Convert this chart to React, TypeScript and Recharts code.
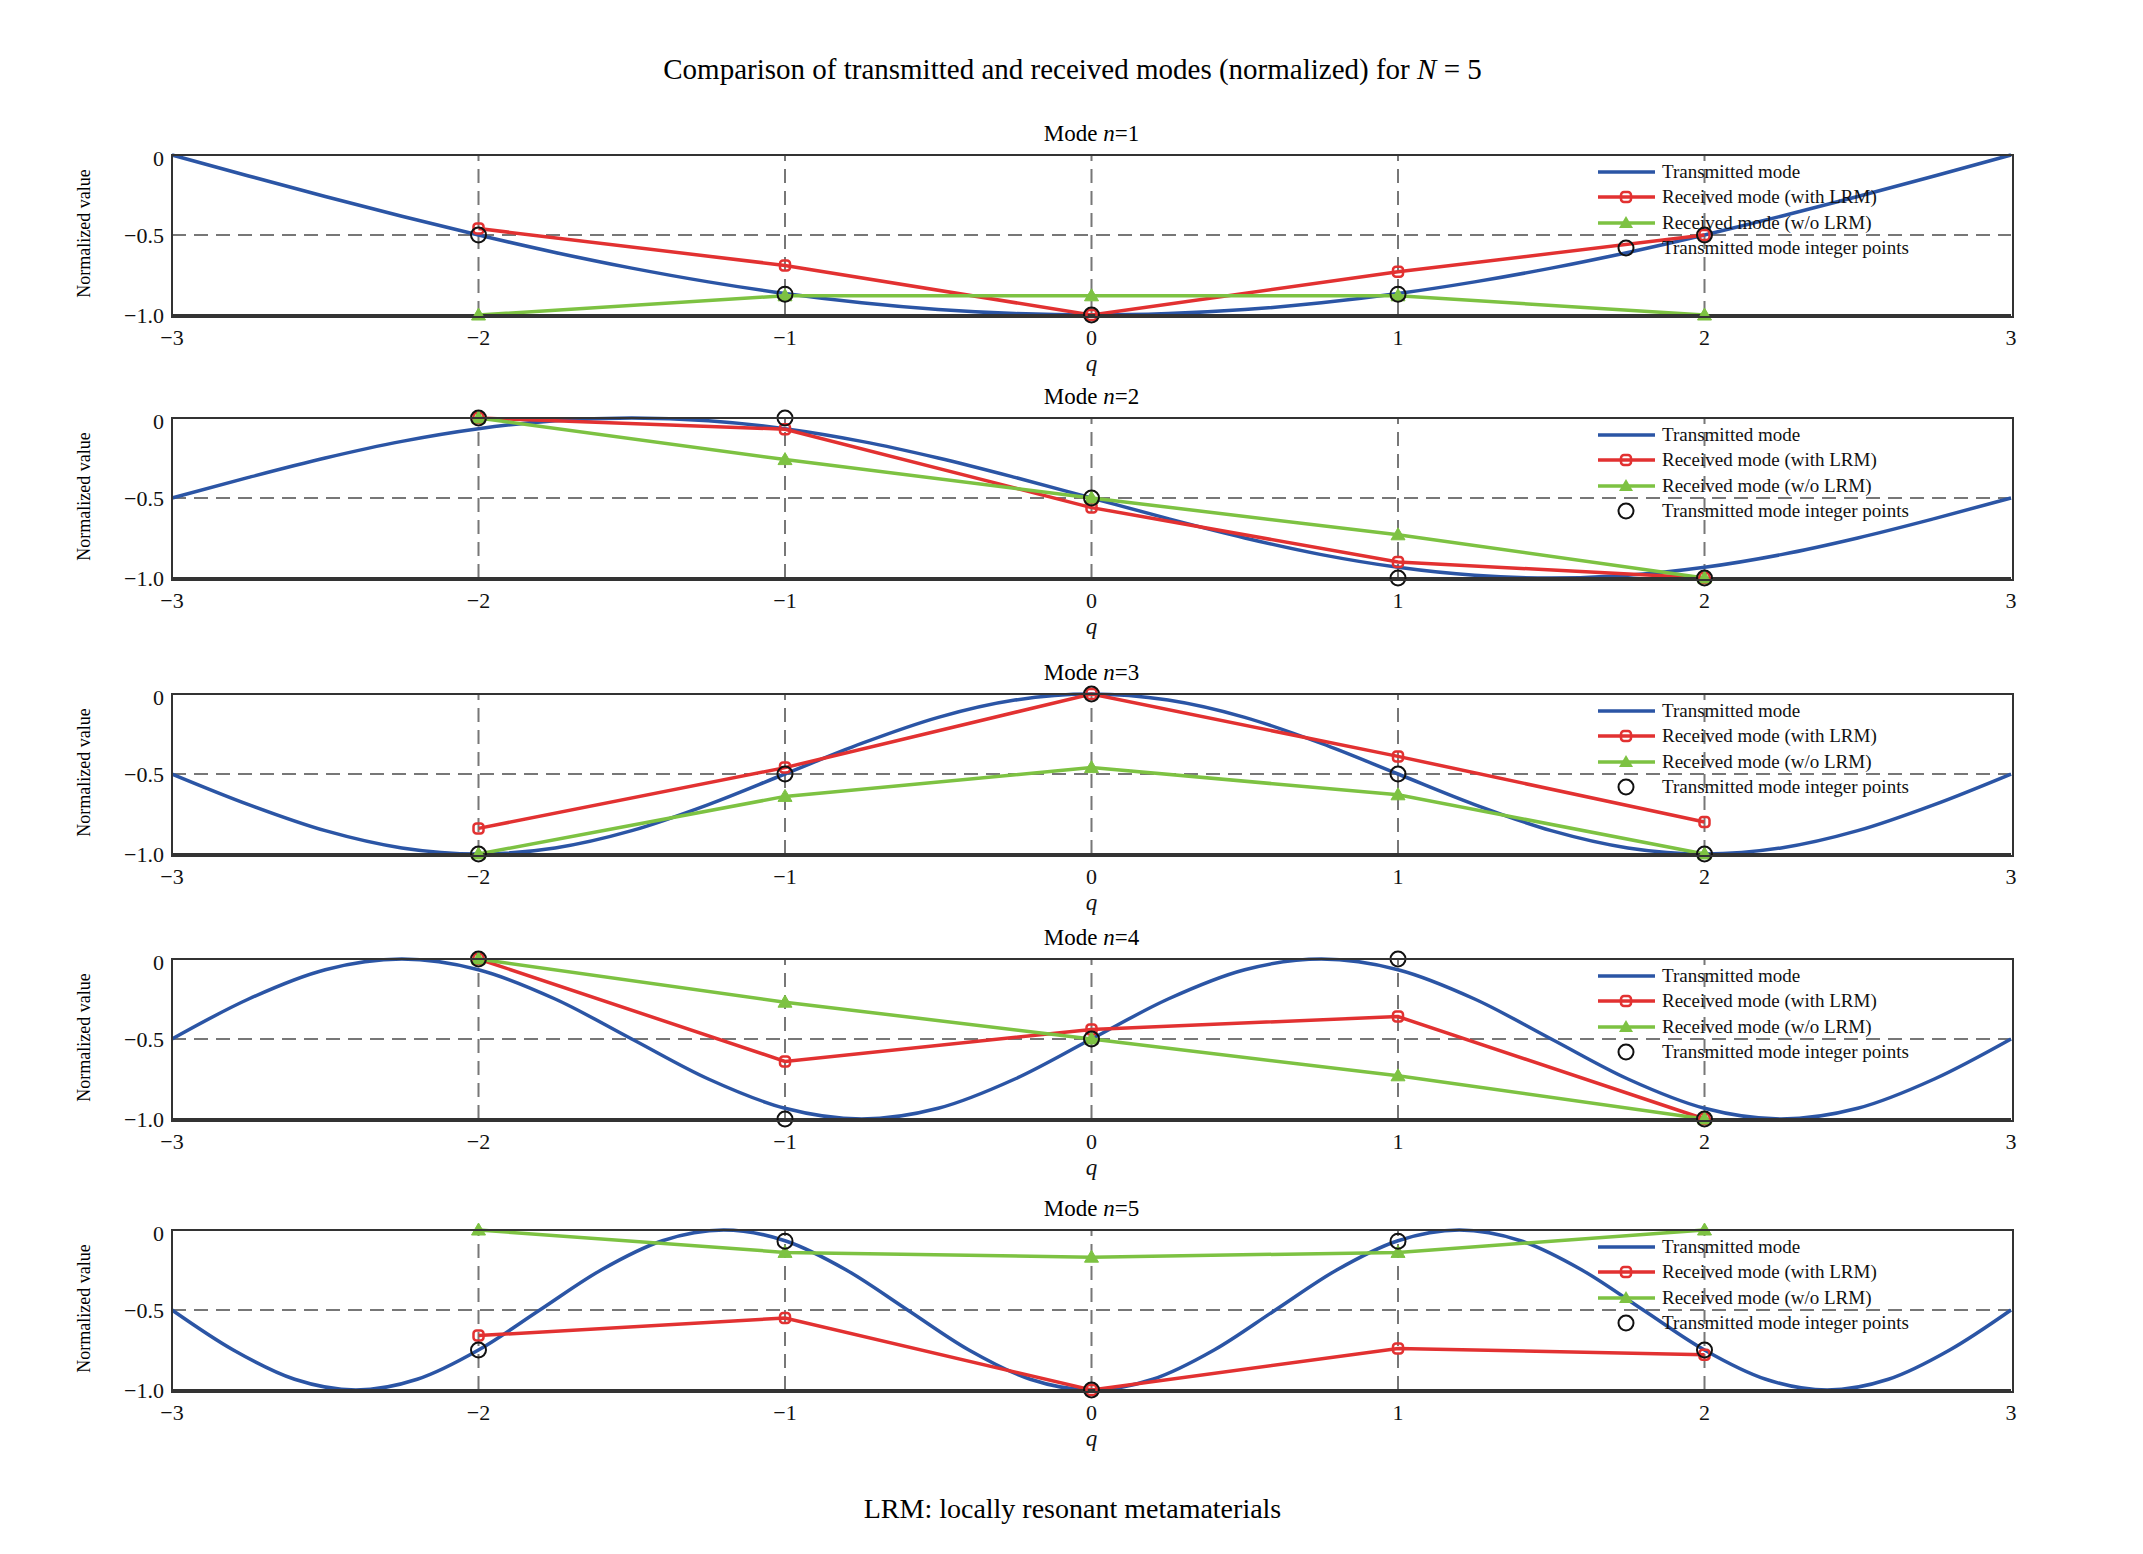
import React from "react";
import { LineChart, Line, XAxis, YAxis, ReferenceLine } from "recharts";

const qInt = [-2, -1, 0, 1, 2];
const qQuarter = [-3, -2.75, -2.5, -2.25, -2, -1.75, -1.5, -1.25, -1, -0.75, -0.5, -0.25, 0, 0.25, 0.5, 0.75, 1, 1.25, 1.5, 1.75, 2, 2.25, 2.5, 2.75, 3];
const qFifth = [-3, -2.8, -2.6, -2.4, -2.2, -2, -1.8, -1.6, -1.4, -1.2, -1, -0.8, -0.6, -0.4, -0.2, 0, 0.2, 0.4, 0.6, 0.8, 1, 1.2, 1.4, 1.6, 1.8, 2, 2.2, 2.4, 2.6, 2.8, 3];

// transmitted mode curves
const tx1 = [0, -0.131, -0.259, -0.383, -0.5, -0.609, -0.707, -0.793, -0.866, -0.924, -0.966, -0.991, -1, -0.991, -0.966, -0.924, -0.866, -0.793, -0.707, -0.609, -0.5, -0.383, -0.259, -0.131, 0];
const tx2 = [-0.5, -0.371, -0.25, -0.146, -0.067, -0.017, 0, -0.017, -0.067, -0.146, -0.25, -0.371, -0.5, -0.629, -0.75, -0.854, -0.933, -0.983, -1, -0.983, -0.933, -0.854, -0.75, -0.629, -0.5];
const tx3 = [-0.5, -0.691, -0.854, -0.962, -1, -0.962, -0.854, -0.691, -0.5, -0.309, -0.146, -0.038, 0, -0.038, -0.146, -0.309, -0.5, -0.691, -0.854, -0.962, -1, -0.962, -0.854, -0.691, -0.5];
const tx4 = [-0.5, -0.25, -0.067, 0, -0.067, -0.25, -0.5, -0.75, -0.933, -1, -0.933, -0.75, -0.5, -0.25, -0.067, 0, -0.067, -0.25, -0.5, -0.75, -0.933, -1, -0.933, -0.75, -0.5];
const tx5 = [-0.5, -0.75, -0.933, -1, -0.933, -0.75, -0.5, -0.25, -0.067, 0, -0.067, -0.25, -0.5, -0.75, -0.933, -1, -0.933, -0.75, -0.5, -0.25, -0.067, 0, -0.067, -0.25, -0.5, -0.75, -0.933, -1, -0.933, -0.75, -0.5];

// received (with LRM)
const red1 = [-0.46, -0.69, -1.0, -0.73, -0.5];
const red2 = [0, -0.07, -0.56, -0.9, -1.0];
const red3 = [-0.84, -0.46, 0, -0.39, -0.8];
const red4 = [0, -0.64, -0.44, -0.36, -1.0];
const red5 = [-0.66, -0.55, -1.0, -0.74, -0.78];

// received (w/o LRM)
const green1 = [-1.0, -0.88, -0.88, -0.88, -1.0];
const green2 = [0, -0.26, -0.5, -0.73, -1.0];
const green3 = [-1.0, -0.64, -0.46, -0.63, -1.0];
const green4 = [0, -0.27, -0.5, -0.73, -1.0];
const green5 = [0, -0.14, -0.17, -0.14, 0];

// transmitted mode integer points
const circ1 = [-0.5, -0.87, -1.0, -0.87, -0.5];
const circ2 = [0, 0, -0.5, -1.0, -1.0];
const circ3 = [-1.0, -0.5, 0, -0.5, -1.0];
const circ4 = [0, -1.0, -0.5, 0, -1.0];
const circ5 = [-0.75, -0.07, -1.0, -0.07, -0.75];

const xTicks = [-3, -2, -1, 0, 1, 2, 3];
const yTicks = [-1, -0.5, 0];
const legendLabels = ["Transmitted mode", "Received mode (with LRM)", "Received mode (w/o LRM)", "Transmitted mode integer points"];

const BLUE = "#2b55a5";
const RED = "#e23131";
const GREEN = "#7dc242";
const FONT = "'Liberation Serif', 'DejaVu Serif', serif";

const modes = [
  { n: 1, top: 154, qs: qQuarter, tx: tx1, red: red1, green: green1, circ: circ1 },
  { n: 2, top: 417, qs: qQuarter, tx: tx2, red: red2, green: green2, circ: circ2 },
  { n: 3, top: 693, qs: qQuarter, tx: tx3, red: red3, green: green3, circ: circ3 },
  { n: 4, top: 958, qs: qQuarter, tx: tx4, red: red4, green: green4, circ: circ4 },
  { n: 5, top: 1229, qs: qFifth, tx: tx5, red: red5, green: green5, circ: circ5 },
];

const PLOT_L = 171;
const PLOT_R = 2010;
const PLOT_H = 160;

const fmtY = (v: number) => (v === 0 ? "0" : v === -0.5 ? "\u22120.5" : "\u22121.0");
const fmtX = (v: number) => (v < 0 ? "\u2212" + Math.abs(v) : String(v));

const SquareDot = (p: any) =>
  p.cx == null ? null : (
    <rect x={p.cx - 5} y={p.cy - 5} width={10} height={10} rx={3} fill="none" stroke={RED} strokeWidth={2.5} />
  );
const TriDot = (p: any) =>
  p.cx == null ? null : (
    <path d={`M${p.cx},${p.cy - 7} L${p.cx + 7},${p.cy + 5} L${p.cx - 7},${p.cy + 5} Z`} fill={GREEN} stroke={GREEN} />
  );
const CircDot = (p: any) =>
  p.cx == null ? null : <circle cx={p.cx} cy={p.cy} r={7.5} fill="none" stroke="#111" strokeWidth={2} />;

function Legend({ top }: { top: number }) {
  return (
    <div style={{ position: "absolute", left: 1597, top: top + 4, fontFamily: FONT, fontSize: 19, color: "#111" }}>
      {legendLabels.map((t, i) => (
        <div key={t} style={{ display: "flex", alignItems: "center", height: 25.5 }}>
          <svg width={60} height={20}>
            {i < 3 && <line x1={0} y1={10} x2={57} y2={10} stroke={[BLUE, RED, GREEN][i]} strokeWidth={3.5} />}
            {i === 1 && <rect x={23} y={5} width={10} height={10} rx={3} fill="none" stroke={RED} strokeWidth={2.5} />}
            {i === 2 && <path d="M28,3 L35,15 L21,15 Z" fill={GREEN} />}
            {i === 3 && <circle cx={28} cy={10} r={7.5} fill="none" stroke="#111" strokeWidth={2} />}
          </svg>
          <span style={{ marginLeft: 4 }}>{t}</span>
        </div>
      ))}
    </div>
  );
}

function Panel({ m }: { m: (typeof modes)[number] }) {
  const curve = m.qs.map((q, i) => ({ q, v: m.tx[i] }));
  const red = qInt.map((q, i) => ({ q, v: m.red[i] }));
  const green = qInt.map((q, i) => ({ q, v: m.green[i] }));
  const circ = qInt.map((q, i) => ({ q, v: m.circ[i] }));
  return (
    <>
      <div style={{ position: "absolute", left: PLOT_L, width: PLOT_R - PLOT_L, top: m.top - 34, textAlign: "center", fontFamily: FONT, fontSize: 23 }}>
        Mode <i>n</i>={m.n}
      </div>
      <div style={{ position: "absolute", left: 83 - 100, top: m.top + PLOT_H / 2 - 12, width: 200, textAlign: "center", transform: "rotate(-90deg)", fontFamily: FONT, fontSize: 18 }}>
        Normalized value
      </div>
      <div style={{ position: "absolute", left: 0, top: m.top - 10 }}>
        <LineChart width={2143} height={PLOT_H + 80} margin={{ top: 10, right: 2143 - PLOT_R, left: 0, bottom: 0 }}>
          <XAxis dataKey="q" type="number" domain={[-3, 3]} ticks={xTicks} tickFormatter={fmtX}
            height={70} stroke="#333" strokeWidth={2} tickLine={false} allowDuplicatedCategory={false}
            tick={{ fontSize: 22, fill: "#111", fontFamily: FONT, dy: 6 }}
            label={{ value: "q", position: "insideTop", offset: 40, fontSize: 23, fontStyle: "italic", fill: "#111", fontFamily: FONT }} />
          <YAxis type="number" domain={[-1, 0]} ticks={yTicks} tickFormatter={fmtY} width={PLOT_L}
            stroke="#333" strokeWidth={2} tickLine={false} tick={{ fontSize: 22, fill: "#111", fontFamily: FONT }} />
          {qInt.map((q) => (
            <ReferenceLine key={q} x={q} stroke="#777" strokeDasharray="14 8" strokeWidth={2} />
          ))}
          <ReferenceLine y={-0.5} stroke="#777" strokeDasharray="14 8" strokeWidth={2} />
          <Line data={curve} dataKey="v" type="monotone" stroke={BLUE} strokeWidth={3.5} dot={false} isAnimationActive={false} />
          <Line data={red} dataKey="v" type="linear" stroke={RED} strokeWidth={3.5} dot={<SquareDot />} isAnimationActive={false} />
          <Line data={green} dataKey="v" type="linear" stroke={GREEN} strokeWidth={3.5} dot={<TriDot />} isAnimationActive={false} />
          <Line data={circ} dataKey="v" stroke="none" dot={<CircDot />} isAnimationActive={false} />
        </LineChart>
      </div>
      <div style={{ position: "absolute", left: PLOT_L - 1, top: m.top - 1, width: PLOT_R - PLOT_L, height: PLOT_H, border: "2px solid #333", pointerEvents: "none" }} />
      <Legend top={m.top} />
    </>
  );
}

export default function App() {
  return (
    <div style={{ position: "relative", width: 2141, height: 1552, margin: -8, background: "#fff", border: "1px solid #ccc", overflow: "hidden" }}>
      <div style={{ position: "absolute", left: 0, width: 2143, top: 52, textAlign: "center", fontFamily: FONT, fontSize: 29 }}>
        Comparison of transmitted and received modes (normalized) for <i>N</i> = 5
      </div>
      {modes.map((m) => (
        <Panel key={m.n} m={m} />
      ))}
      <div style={{ position: "absolute", left: 0, width: 2143, top: 1492, textAlign: "center", fontFamily: FONT, fontSize: 28 }}>
        LRM: locally resonant metamaterials
      </div>
    </div>
  );
}
